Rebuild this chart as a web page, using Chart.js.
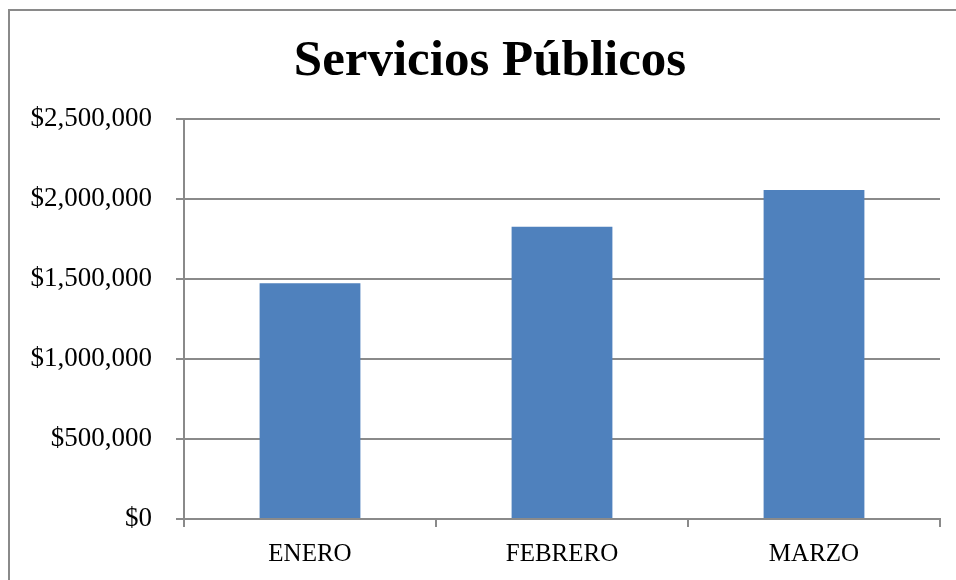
<!DOCTYPE html>
<html>
<head>
<meta charset="utf-8">
<script src="https://cdn.jsdelivr.net/npm/chart.js@4/dist/chart.umd.min.js"></script>
<style>
  html, body { margin: 0; padding: 0; background: #ffffff; }
  #wrap { position: relative; width: 956px; height: 580px; overflow: hidden; }
  #frame { position: absolute; left: 8px; top: 9px; width: 1200px; height: 1200px;
           border-left: 2px solid #8a8a8a; border-top: 2px solid #8a8a8a; }
  canvas { position: absolute; left: 0; top: 0; }
</style>
</head>
<body>
<div id="wrap">
  <div id="frame"></div>
  <canvas id="c" width="956" height="580"></canvas>
</div>
<script>
const chartTitle = "Servicios Públicos";
const categories = ["ENERO", "FEBRERO", "MARZO"];
const values = [1473000, 1827000, 2056000];
const yTicks = [0, 500000, 1000000, 1500000, 2000000, 2500000];

const gridColor = "#8a8a8a";

const titlePlugin = {
  id: "customTitle",
  afterDraw(chart) {
    const ctx = chart.ctx;
    ctx.save();
    ctx.font = "bold 51px 'Liberation Serif', serif";
    ctx.fillStyle = "#000000";
    ctx.textAlign = "center";
    ctx.textBaseline = "alphabetic";
    ctx.fillText(chartTitle, 490, 75);
    ctx.restore();
  }
};

new Chart(document.getElementById("c"), {
  type: "bar",
  data: {
    labels: categories,
    datasets: [{
      data: values,
      backgroundColor: "#4F81BD",
      borderWidth: 0,
      categoryPercentage: 1.0,
      barPercentage: 0.4
    }]
  },
  options: {
    responsive: false,
    animation: false,
    devicePixelRatio: 1,
    layout: { padding: { top: 119, right: 16, bottom: 0, left: 0 } },
    plugins: { legend: { display: false }, tooltip: { enabled: false }, title: { display: false } },
    scales: {
      x: {
        afterFit(scale) { scale.height = 61; },
        grid: { offset: true, drawOnChartArea: false, drawTicks: true, tickLength: 8, color: gridColor, lineWidth: 2 },
        border: { display: true, color: gridColor, width: 2 },
        ticks: { color: "#000000", padding: 12, font: { family: "'Liberation Serif', serif", size: 25 } }
      },
      y: {
        min: 0,
        max: 2500000,
        afterFit(scale) { scale.width = 184; },
        afterBuildTicks(scale) { scale.ticks = yTicks.map(v => ({ value: v })); },
        grid: { drawOnChartArea: true, drawTicks: true, tickLength: 8, color: gridColor, lineWidth: 2 },
        border: { display: true, color: gridColor, width: 2 },
        ticks: {
          color: "#000000",
          padding: 24,
          font: { family: "'Liberation Serif', serif", size: 27 },
          callback: v => "$" + Number(v).toLocaleString("en-US")
        }
      }
    }
  },
  plugins: [titlePlugin]
});
</script>
</body>
</html>
